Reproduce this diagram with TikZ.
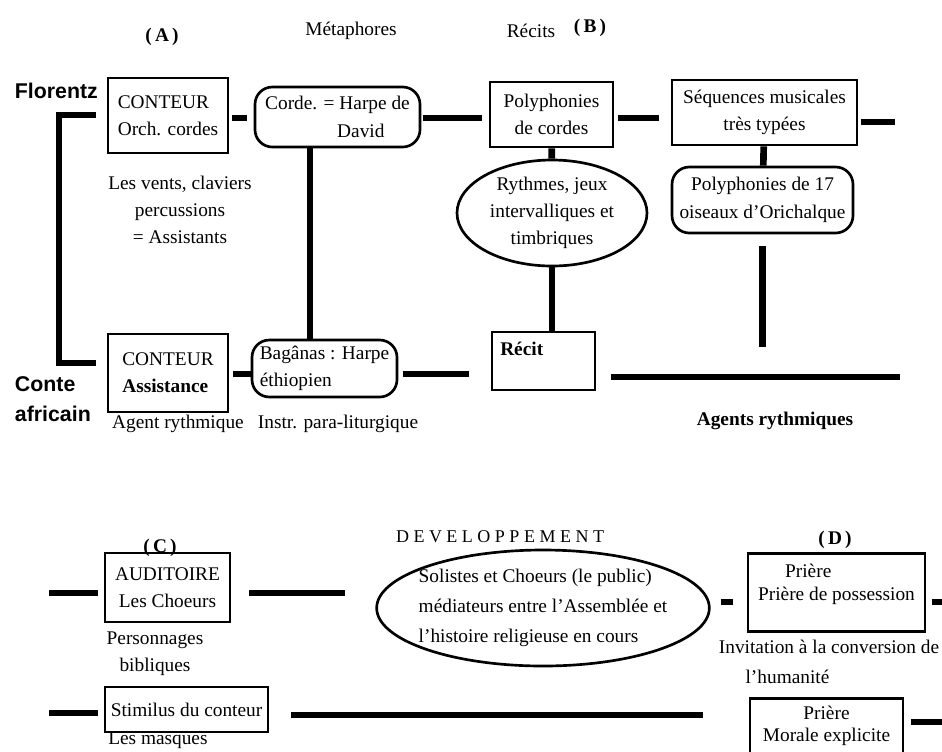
\documentclass[tikz,border=0pt]{standalone}
\usepackage{fontspec}
\setmainfont{Liberation Serif}
\newfontfamily\cotefont{Liberation Sans}
\usetikzlibrary{shapes.geometric}

\begin{document}
\begin{tikzpicture}[x=0.75pt, y=-0.75pt,
        every node/.style={font=\fontsize{14.5}{20.5}\selectfont, inner sep=2pt},
        cadre/.style={draw, line width=2pt, rectangle, align=center},
        capsule/.style={draw, line width=2pt, rectangle, rounded corners=13pt, align=center},
        ovale/.style={draw, line width=2pt, ellipse, align=center, inner sep=0pt},
        lien/.style={line width=5pt},
        titre/.style={font=\bfseries\fontsize{14.5}{20}\selectfont},
        cote/.style={font=\cotefont\bfseries\fontsize{16}{22.5}\selectfont, align=left, anchor=west}]

    \useasboundingbox (0,0) rectangle (942,751);

    % partie haute
    \node[titre] (tA) at (162,37) {(\,A\,)};
    \node (metaphores) at (351,31) {Métaphores};
    \node (recits) at (531,31) {Récits};
    \node[titre] (tB) at (590,28) {(\,B\,)};
    \node[cote] (florentz) at (12,91) {Florentz};
    \node[cote] (conte) at (12,399) {Conte\\africain};

    \node[cadre, minimum width=90pt, minimum height=56.25pt, align=left] (orch) at (168,115.5) {CONTEUR\\Orch. cordes};
    \node[capsule, minimum width=123.75pt, minimum height=45pt, align=left] (corde) at (337.5,117) {Corde. = Harpe de\\\hspace*{54pt}David};
    \node[cadre, minimum width=92.25pt, minimum height=48.75pt] (polyc) at (551.5,114.5) {Polyphonies\\de cordes};
    \node[cadre, minimum width=138.75pt, minimum height=48.75pt] (seq) at (764.5,112.5) {Séquences musicales\\très typées};
    \node[capsule, minimum width=135.75pt, minimum height=49.5pt] (oiseaux) at (762.5,200) {Polyphonies de 17\\oiseaux d'Orichalque};
    \node[ovale, minimum width=142.5pt, minimum height=79.5pt] (rythmes) at (552,213) {Rythmes, jeux\\intervalliques et\\timbriques};
    \node[align=center] (vents) at (180,210) {Les vents, claviers\\percussions\\= Assistants};

    \node[cadre, minimum width=90pt, minimum height=58.5pt, align=left] (assist) at (168,373) {CONTEUR\\\textbf{Assistance}};
    \node[capsule, minimum width=108.75pt, minimum height=42.75pt, align=left] (bagan) at (324.5,368.5) {Bagânas : Harpe\\éthiopien};
    \node[cadre, minimum width=77.25pt, minimum height=43.5pt,
        label={[anchor=north west, xshift=5pt, yshift=-6pt, titre]north west:Récit}] (recit) at (543.5,361) {};
    \node (agent) at (178,424) {Agent rythmique};
    \node (instr) at (338,424) {Instr. para-liturgique};
    \node[titre] (agents) at (775,421) {Agents rythmiques};

    \coordinate (coinhaut) at (59,115);
    \coordinate (coinbas) at (59,363);
    \coordinate (axe) at (310,0);
    \coordinate (rangh) at (0,118);
    \coordinate (rang) at (0,374);
    \coordinate (seqfin) at (895,122);
    \coordinate (oiseauxfin) at (760,347);
    \coordinate (agentsfin) at (900,377);

    \draw[lien, shorten <=8pt, shorten >=8pt] (orch.west |- coinhaut) -- (coinhaut) -- (coinbas) -- (assist.west |- coinbas);
    \draw[lien, shorten <=2pt, shorten >=5pt] (orch.east |- rangh) -- (corde.west |- rangh);
    \draw[lien, shorten <=1.5pt, shorten >=5pt] (corde.east |- rangh) -- (polyc.west |- rangh);
    \draw[lien, shorten <=3pt, shorten >=9pt] (polyc.east |- rangh) -- (seq.west |- rangh);
    \draw[lien, shorten <=2pt] (seq.east |- seqfin) -- (seqfin);
    \draw[lien] (corde.south -| axe) -- (bagan.north -| axe);
    \draw[lien] (polyc) -- (rythmes);
    \draw[lien] (rythmes.south) -- (rythmes.south |- recit.north);
    \draw[lien] (seq) -- (oiseaux);
    \draw[lien, shorten <=9pt] (oiseaux.south) -- (oiseaux.south |- oiseauxfin);
    \draw[lien, shorten <=3pt] (assist.east |- rang) -- (bagan.west |- rang);
    \draw[lien, shorten <=3.5pt, shorten >=16pt] (bagan.east |- rang) -- (recit.west |- rang);
    \draw[lien, shorten <=11pt] (recit.east |- agentsfin) -- (agentsfin);

    % partie basse
    \node[titre] (tC) at (160,548) {(\,C\,)};
    \node[font=\fontsize{13.5}{18}\selectfont] (devel) at (500,537) {\addfontfeature{LetterSpace=25}DEVELOPPEMENT};
    \node[titre] (tD) at (835,540) {(\,D\,)};

    \node[cadre, minimum width=93.75pt, minimum height=51.75pt] (auditoire) at (167.5,587.5) {AUDITOIRE\\Les Choeurs};
    \node[ovale, minimum width=240.75pt, minimum height=87pt, align=left, inner xsep=-5pt, font=\fontsize{14.5}{22.5}\selectfont] (solistes) at (543,608) {Solistes et Choeurs (le public)\\médiateurs entre l'Assemblée et\\l'histoire religieuse en cours};
    \node[cadre, anchor=north, minimum width=132.75pt, inner ysep=8pt, text depth=15.5pt, align=left, font=\fontsize{14.5}{17}\selectfont] (priere) at (836.5,552) {\hspace*{1.4em}Prière\\Prière de possession};
    \node[align=center] (personnages) at (155,654) {Personnages\\bibliques};
    \node[align=left, anchor=west, font=\fontsize{14.5}{22}\selectfont] (invitation) at (716,662) {Invitation à la conversion de\\\hspace*{20pt}l'humanité};
    \node[cadre, minimum width=122.25pt, minimum height=33.75pt] (stimulus) at (186.5,709.5) {Stimilus du conteur};
    \node[cadre, anchor=north, minimum width=114.75pt, inner ysep=6pt, text depth=25pt, font=\fontsize{14.5}{16}\selectfont] (morale) at (826.5,697) {Prière\\Morale explicite};
    \node[anchor=west, inner sep=0pt] (masques) at (108,740) {Les masques};

    \coordinate (auddebut) at (49,593);
    \coordinate (rangd) at (0,602);
    \coordinate (prierefin) at (942,602);
    \coordinate (stimdebut) at (49,713);
    \coordinate (stimfin) at (703,715);
    \coordinate (moralefin) at (942,722);

    \draw[lien, shorten >=4pt] (auddebut) -- (auditoire.west |- auddebut);
    \draw[lien, shorten <=13.5pt, shorten >=22.5pt] (auditoire.east |- auddebut) -- (solistes.west |- auddebut);
    \draw[lien, shorten <=7.5pt, shorten >=10pt] (solistes.east |- rangd) -- (priere.west |- rangd);
    \draw[lien, shorten <=4pt] (priere.east |- prierefin) -- (prierefin);
    \draw[lien, shorten >=4pt] (stimdebut) -- (stimulus.west |- stimdebut);
    \draw[lien, shorten <=16.5pt] (stimulus.east |- stimfin) -- (stimfin);
    \draw[lien, shorten <=5pt] (morale.east |- moralefin) -- (moralefin);
\end{tikzpicture}
\end{document}
